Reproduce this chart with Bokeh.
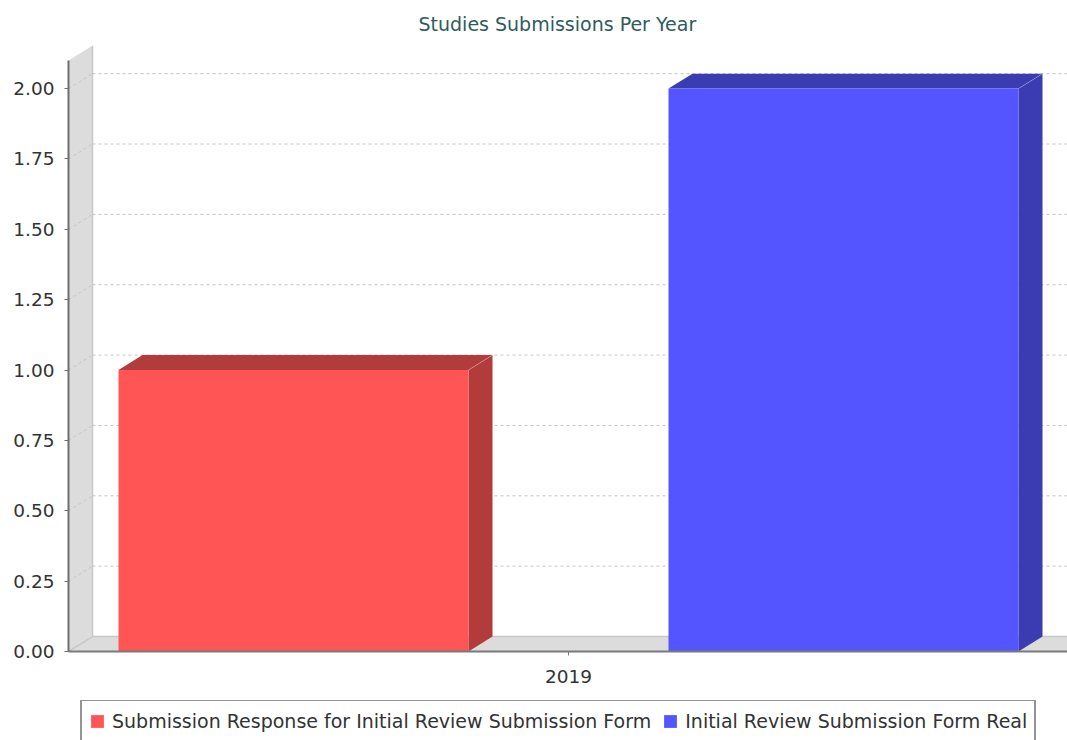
from bokeh.plotting import figure
from bokeh.layouts import column
from bokeh.models import (Range1d, FixedTicker, NumeralTickFormatter, Legend,
                          LegendItem)
from bokeh.embed import file_html
from bokeh.resources import INLINE

# ---------------- data ----------------
categories = ["2019"]
series_names = ["Submission Response for Initial Review Submission Form",
                "Initial Review Submission Form Real"]
response_values = [1.0]
initial_review_values = [2.0]
y_ticks = [0.0, 0.25, 0.5, 0.75, 1.0, 1.25, 1.5, 1.75, 2.0]
y_upper = 2.1
title_text = "Studies Submissions Per Year"

series_values = [response_values, initial_review_values]
front_colors = ["#FF5555", "#5555FF"]
side_colors = ["#B23B3B", "#3B3BB2"]

# ---------------- layout ----------------
W = 1067
H_MAIN, H_LEG = 700, 40
LEFT, TOP, BOTTOM = 68, 44, 49
FRAME_W = W - LEFT
FRAME_H = H_MAIN - TOP - BOTTOM
BAND_PX = 1000.0
DX_PX, DY_PX = 24.0, 15.0
ppu = (FRAME_H - DY_PX) / y_upper
x_end = FRAME_W / BAND_PX
y_end = FRAME_H / ppu
dxu = DX_PX / BAND_PX
dyu = DY_PX / ppu

LOWER_M, UPPER_M, ITEM_M = 0.05, 0.05, 0.20
n_series = len(series_values)
bar_w = (1 - LOWER_M - UPPER_M - ITEM_M * (n_series - 1)) / n_series

FONT = "DejaVu Sans"
WALL = "#DCDCDC"
GRID = "#C4C4C4"

p = figure(width=W, height=H_MAIN, output_backend="svg", toolbar_location=None,
           x_range=Range1d(0, x_end), y_range=Range1d(0, y_end),
           min_border_left=LEFT, min_border_right=0, min_border_top=TOP,
           min_border_bottom=BOTTOM, background_fill_color="white",
           border_fill_color="white", outline_line_color=None)
p.xgrid.visible = False
p.ygrid.visible = False

# title
p.title.text = title_text
p.title.align = "left"
p.title.offset = 350
p.title.text_font = FONT
p.title.text_font_size = "19px"
p.title.text_font_style = "normal"
p.title.text_color = "#2E5C5C"
p.title.standoff = 21

# back wall and floor
p.patch([0, dxu, dxu, 0], [0, dyu, y_end, y_upper], fill_color=WALL, line_color=None)
p.patch([0, dxu, x_end, x_end], [0, dyu, dyu, 0], fill_color=WALL, line_color=None)
p.segment([dxu], [dyu], [dxu], [y_end], line_color="#C8C8C8", line_width=1.5)
p.segment([dxu], [dyu], [x_end], [dyu], line_color="#C8C8C8", line_width=1.5)
p.segment([0], [0], [dxu], [dyu], line_color="#C8C8C8", line_width=1.5)

# grid lines (back plane + wall diagonals)
gt = y_ticks[1:]
p.segment([dxu] * len(gt), [t + dyu for t in gt], [x_end] * len(gt), [t + dyu for t in gt],
          line_color=GRID, line_width=1, line_dash="3 3")
p.segment([0] * len(gt), gt, [dxu] * len(gt), [t + dyu for t in gt],
          line_color=GRID, line_width=1, line_dash="3 3")

# bars
bar_geom = []
for si, vals in enumerate(series_values):
    lefts, rights, tops = [], [], []
    top_xs, top_ys, side_xs, side_ys = [], [], [], []
    for ci, v in enumerate(vals):
        x0 = ci + LOWER_M + si * (bar_w + ITEM_M)
        x1 = x0 + bar_w
        lefts.append(x0); rights.append(x1); tops.append(v)
        top_xs.append([x0, x1, x1 + dxu, x0 + dxu])
        top_ys.append([v, v, v + dyu, v + dyu])
        side_xs.append([x1, x1, x1 + dxu, x1 + dxu])
        side_ys.append([0, v, v + dyu, dyu])
    p.patches(top_xs, top_ys, fill_color=side_colors[si], line_color=None)
    p.patches(side_xs, side_ys, fill_color=side_colors[si], line_color=None)
    p.quad(left=lefts, right=rights, bottom=0, top=tops,
           fill_color=front_colors[si], line_color=None)
    p.segment(rights, tops, [x + dxu for x in rights], [t + dyu for t in tops],
              line_color="white", line_alpha=0.25, line_width=1)
    bar_geom.append((lefts, rights, tops))

# y axis
ya = p.yaxis[0]
ya.ticker = FixedTicker(ticks=y_ticks)
ya.formatter = NumeralTickFormatter(format="0.00")
ya.bounds = (0, y_upper)
ya.axis_line_color = "#6E6E6E"
ya.axis_line_width = 2
ya.major_tick_line_color = "#6E6E6E"
ya.major_tick_out = 4
ya.major_tick_in = 0
ya.minor_tick_line_color = None
ya.major_label_standoff = 10
ya.major_label_text_font = FONT
ya.major_label_text_font_size = "18.5px"
ya.major_label_text_color = "#333333"

# x axis
xa = p.xaxis[0]
xa.ticker = FixedTicker(ticks=[i + 0.5 for i in range(len(categories))])
xa.major_label_overrides = {i + 0.5: c for i, c in enumerate(categories)}
xa.axis_line_color = "#7A7A7A"
xa.axis_line_width = 2
xa.major_tick_line_color = "#7A7A7A"
xa.major_tick_out = 4
xa.major_tick_in = 0
xa.minor_tick_line_color = None
xa.major_label_standoff = 14
xa.major_label_text_font = FONT
xa.major_label_text_font_size = "18.5px"
xa.major_label_text_color = "#333333"

# legend strip (separate small figure under the chart; its bars lie outside its view)
q = figure(width=W, height=H_LEG, output_backend="svg", toolbar_location=None,
           x_range=Range1d(0, x_end), y_range=Range1d(-1, 0),
           min_border_left=0, min_border_right=0, min_border_top=0, min_border_bottom=0,
           background_fill_color="white", border_fill_color="white",
           outline_line_color=None)
q.axis.visible = False
q.grid.visible = False
leg_renderers = [q.quad(left=l, right=r, bottom=0, top=t, fill_color=c, line_color=None)
                 for (l, r, t), c in zip(bar_geom, front_colors)]
legend = Legend(items=[LegendItem(label=n, renderers=[r]) for n, r in zip(series_names, leg_renderers)],
                orientation="horizontal", location=(12, -3), margin=0, padding=7,
                spacing=11, label_standoff=7, glyph_width=16, glyph_height=16,
                label_height=26, label_text_font=FONT, label_text_font_size="19px",
                label_text_color="#333333", border_line_color="#2A2A2A",
                border_line_width=2, background_fill_color="white", background_fill_alpha=1)
q.add_layout(legend)

open("out.html", "w").write(file_html(column(p, q, spacing=0), INLINE))
